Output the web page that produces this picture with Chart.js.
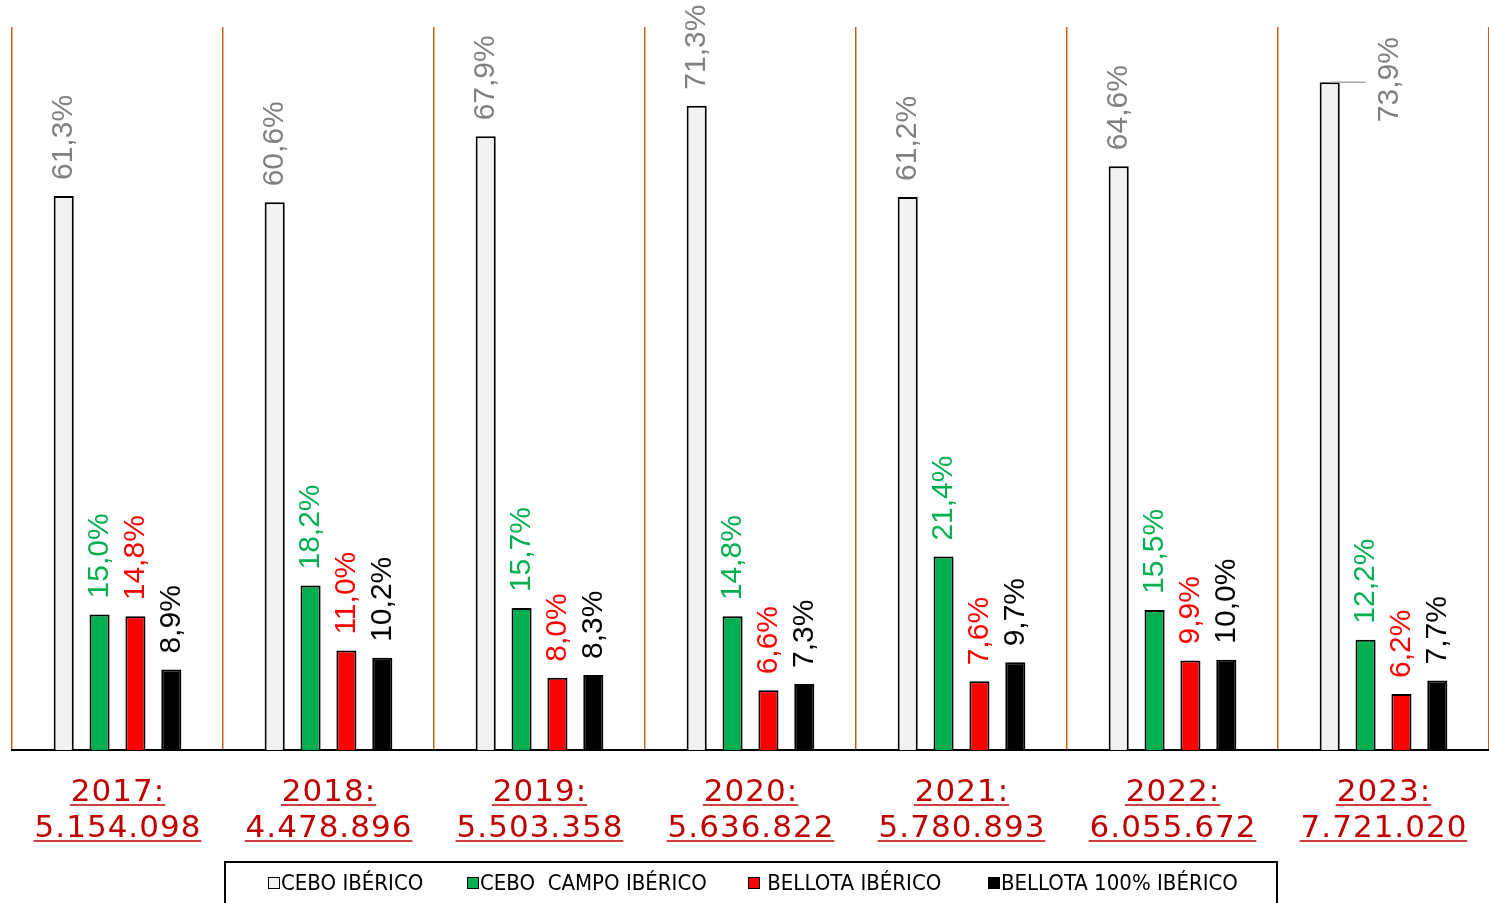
<!DOCTYPE html>
<html>
<head>
<meta charset="utf-8">
<script src="https://cdn.jsdelivr.net/npm/chart.js@4.4.1/dist/chart.umd.min.js"></script>
<style>
html, body { margin: 0; padding: 0; background: #fff; }
#wrap { width: 1489px; height: 903px; }
</style>
</head>
<body>
<div id="wrap"><canvas id="barChart"></canvas></div>
<script>
const years = ['2017', '2018', '2019', '2020', '2021', '2022', '2023'];
const totals = ['5.154.098', '4.478.896', '5.503.358', '5.636.822', '5.780.893', '6.055.672', '7.721.020'];

const ceboIberico      = [61.3, 60.6, 67.9, 71.3, 61.2, 64.6, 73.9];
const ceboCampoIberico = [15.0, 18.2, 15.7, 14.8, 21.4, 15.5, 12.2];
const bellotaIberico   = [14.8, 11.0, 8.0, 6.6, 7.6, 9.9, 6.2];
const bellota100       = [8.9, 10.2, 8.3, 7.3, 9.7, 10.0, 7.7];

const seriesNames = ['CEBO IBÉRICO', 'CEBO  CAMPO IBÉRICO', ' BELLOTA IBÉRICO', 'BELLOTA 100% IBÉRICO'];
const fillColors  = ['#F2F2F2', '#00B050', '#FF0000', '#000000'];
const labelColors = ['#808080', '#00B050', '#FF0000', '#000000'];

// rotated percentage labels above each bar
const barLabels = {
    id: 'barLabels',
    afterDatasetsDraw(chart) {
        const ctx = chart.ctx;
        chart.data.datasets.forEach((ds, i) => {
            chart.getDatasetMeta(i).data.forEach((bar, j) => {
                const txt = ds.data[j].toFixed(1).replace('.', ',') + '%';
                ctx.save();
                ctx.font = '30px "Liberation Sans", Arial, sans-serif';
                const w = ctx.measureText(txt).width;
                let x = bar.x, y = bar.y - 16;
                if (y - w < 0) {
                    // not enough room on top: put it to the right with a leader line
                    ctx.strokeStyle = '#A6A6A6';
                    ctx.lineWidth = 1.5;
                    ctx.beginPath();
                    ctx.moveTo(bar.x, bar.y);
                    ctx.lineTo(bar.x + 36, bar.y);
                    ctx.stroke();
                    x = bar.x + 60;
                    y = bar.y + 40;
                }
                ctx.translate(x, y);
                ctx.rotate(-Math.PI / 2);
                ctx.fillStyle = labelColors[i];
                ctx.textAlign = 'left';
                ctx.textBaseline = 'middle';
                ctx.fillText(txt, 0, 0);
                ctx.restore();
            });
        });
    }
};

// underlined two-line category labels + boxed legend
const extras = {
    id: 'extras',
    afterDraw(chart) {
        const ctx = chart.ctx;
        const xs = chart.scales.x;
        ctx.save();
        ctx.font = '31px "DejaVu Sans", sans-serif';
        ctx.letterSpacing = '1px';
        ctx.fillStyle = '#C00000';
        ctx.strokeStyle = '#C00000';
        ctx.lineWidth = 1.5;
        ctx.textAlign = 'left';
        ctx.textBaseline = 'alphabetic';
        years.forEach((yr, j) => {
            const cx = xs.getPixelForValue(j);
            [[yr + ':', 801], [totals[j], 837]].forEach(([t, by]) => {
                const w = ctx.measureText(t).width - 1;
                ctx.fillText(t, cx - w / 2, by);
                ctx.beginPath();
                ctx.moveTo(cx - w / 2 - 1, by + 4);
                ctx.lineTo(cx + w / 2 + 1, by + 4);
                ctx.stroke();
            });
        });
        ctx.restore();

        // legend
        ctx.save();
        ctx.strokeStyle = '#000';
        ctx.lineWidth = 2;
        ctx.strokeRect(225, 862, 1052, 60);
        ctx.font = '22px "DejaVu Sans Condensed", "DejaVu Sans", sans-serif';
        ctx.textBaseline = 'middle';
        ctx.textAlign = 'left';
        const starts = [268, 467, 748, 988];
        chart.data.datasets.forEach((ds, i) => {
            const x0 = starts[i];
            ctx.fillStyle = fillColors[i];
            ctx.fillRect(x0, 877, 12, 12);
            ctx.lineWidth = 1;
            ctx.strokeStyle = '#000';
            ctx.strokeRect(x0 + 0.5, 877.5, 11, 11);
            ctx.fillStyle = '#000';
            ctx.fillText(ds.label, x0 + 13, 884);
        });
        ctx.restore();
    }
};

const mkSet = (i, data) => ({
    label: seriesNames[i],
    data: data,
    backgroundColor: fillColors[i],
    borderColor: '#000000',
    borderWidth: 2,
    barPercentage: 0.56,
    categoryPercentage: 0.68
});

new Chart(document.getElementById('barChart').getContext('2d'), {
    type: 'bar',
    data: {
        labels: years,
        datasets: [
            mkSet(0, ceboIberico),
            mkSet(1, ceboCampoIberico),
            mkSet(2, bellotaIberico),
            mkSet(3, bellota100)
        ]
    },
    options: {
        responsive: true,
        maintainAspectRatio: false,
        animation: false,
        layout: { padding: { left: 12, top: 27, right: 0, bottom: 153 } },
        scales: {
            x: {
                afterFit: s => { s.height = 0; },
                grid: { color: '#C8601A', lineWidth: 1.5, offset: true, drawTicks: false },
                border: { color: '#000', width: 2 },
                ticks: { display: false }
            },
            y: { display: false, min: 0, max: 80 }
        },
        plugins: {
            legend: { display: false },
            tooltip: { enabled: false }
        }
    },
    plugins: [barLabels, extras]
});
</script>
</body>
</html>
